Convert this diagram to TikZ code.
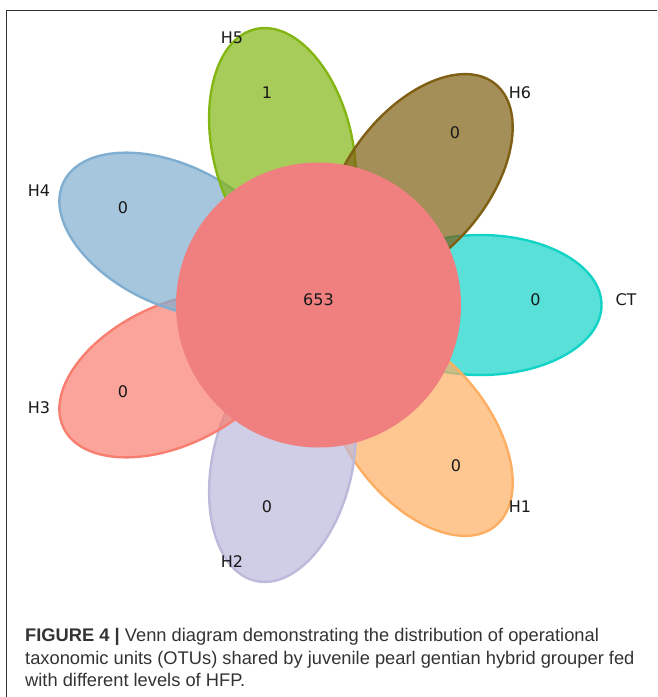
\documentclass[tikz,border=0pt]{standalone}
\usepackage{fontspec}
\setmainfont{Liberation Sans}
\newfontfamily\dejavu{DejaVu Sans}
\definecolor{cCT}{RGB}{19,211,199}
\definecolor{cH6}{RGB}{126,95,19}
\definecolor{cH5}{RGB}{131,182,19}
\definecolor{cH4}{RGB}{128,174,208}
\definecolor{cH3}{RGB}{248,126,112}
\definecolor{cH2}{RGB}{188,185,219}
\definecolor{cH1}{RGB}{254,174,98}
\definecolor{cCore}{RGB}{240,128,128}
\begin{document}
\begin{tikzpicture}[x=1pt,y=-1pt,
  petal/.style={draw=#1, fill=#1, fill opacity=0.7, line width=2.4pt},
  lab/.style={font=\dejavu\fontsize{16}{16}\selectfont, inner sep=0pt, text=black!90},
  captxt/.style={anchor=base west, inner sep=0pt, font=\fontsize{18.3}{22}\selectfont, text=black!80},
  framel/.style={draw=black!80, line width=0.9pt}]
\useasboundingbox (0,0) rectangle (657,697);
\draw[framel] (6,697) -- (6,10) -- (657,10);
% petals
\draw[petal=cCT] (480.5,305) ellipse [x radius=121pt, y radius=70pt];
\draw[petal=cH1, rotate around={308.57:(419.5,431.66)}] (419.5,431.66) ellipse [x radius=121pt, y radius=70pt];
\draw[petal=cH2, rotate around={257.14:(282.45,462.94)}] (282.45,462.94) ellipse [x radius=121pt, y radius=70pt];
\draw[petal=cH3, rotate around={205.71:(172.54,375.29)}] (172.54,375.29) ellipse [x radius=121pt, y radius=70pt];
\draw[petal=cH4, rotate around={154.29:(172.54,234.71)}] (172.54,234.71) ellipse [x radius=121pt, y radius=70pt];
\draw[petal=cH5, rotate around={102.86:(282.45,147.06)}] (282.45,147.06) ellipse [x radius=121pt, y radius=70pt];
\draw[petal=cH6, rotate around={51.43:(419.5,178.3)}] (419.5,178.3) ellipse [x radius=121pt, y radius=70pt];
% core
\fill[cCore] (318.5,305) circle [radius=142.5pt];
% counts
\node[lab] (n653) at (318.5,300) {653};
\node[lab] (nCT) at (535.5,300) {0};
\node[lab] (nH6) at (455,133) {0};
\node[lab] (nH5) at (267,93) {1};
\node[lab] (nH4) at (123,208) {0};
\node[lab] (nH3) at (123,392) {0};
\node[lab] (nH2) at (267,507) {0};
\node[lab] (nH1) at (456,466) {0};
% set names
\node[lab] (lCT) at (626,300) {CT};
\node[lab] (lH6) at (520,93) {H6};
\node[lab] (lH5) at (232,38) {H5};
\node[lab] (lH4) at (39,191) {H4};
\node[lab] (lH3) at (39,408) {H3};
\node[lab] (lH2) at (232,562) {H2};
\node[lab] (lH1) at (520,507) {H1};
% caption
\node[captxt] (c1) at (25,641) {\textbf{FIGURE 4 |} Venn diagram demonstrating the distribution of operational};
\node[captxt] (c2) at (25,664) {taxonomic units (OTUs) shared by juvenile pearl gentian hybrid grouper fed};
\node[captxt] (c3) at (25,686) {with different levels of HFP.};
\end{tikzpicture}
\end{document}
